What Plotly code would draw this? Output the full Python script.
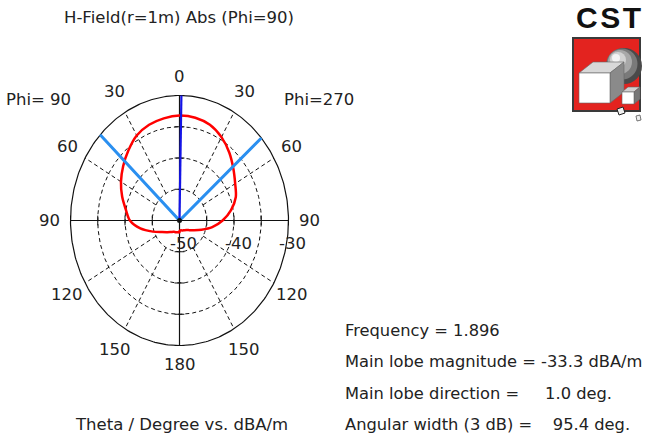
import numpy as np
import plotly.graph_objects as go

# ---------------- data ----------------
theta_deg = [0, 10, 20, 30, 40, 50, 60, 70, 80, 90, 100, 110, 120, 130, 140, 150, 160, 170, 180]
h_phi90 = [-33.2, -33.4, -33.7, -34.3, -35.4, -36.5, -37.6, -38.8, -40.0, -40.9,
           -42.7, -44.8, -46.3, -47.1, -47.6, -47.9, -48.0, -48.1, -48.1]
h_phi270 = [-33.2, -33.3, -33.7, -34.6, -35.8, -37.1, -38.2, -39.0, -40.4, -42.1,
            -43.9, -45.7, -46.9, -47.6, -48.0, -48.2, -48.3, -48.4, -48.3]
r_min, r_max = -50, -30
grid_levels = [-45, -40, -35]
radial_labels = [-50, -40, -30]
theta_ticks = [0, 30, 60, 90, 120, 150, 180]
spoke_angles = [30, 60, 120, 150]
frequency = 1.896
main_lobe_mag = -33.3
main_lobe_dir = 1.0
angular_width = 95.4
title = "H-Field(r=1m) Abs (Phi=90)"
xlabel = "Theta / Degree vs. dBA/m"

# ---------------- layout constants (page pixels) ----------------
W, H = 651, 443
cx, cy = 179.5, 220.5        # polar centre
PX_X = 109 / (r_max - r_min)
PX_Y = 125 / (r_max - r_min)
FONT = "DejaVu Sans"
FS = 16.5
FS_INFO = 16.3
TXT = "#222222"


def px(x):
    return x / W


def py(y):
    return 1 - y / H


def pol(r_db, th, side):
    """side=-1 : Phi=90 (left half), side=+1 : Phi=270 (right half)"""
    r = np.asarray(r_db, float) - r_min
    t = np.radians(np.asarray(th, float))
    return side * r * np.sin(t), r * np.cos(t)


fig = go.Figure()
R = r_max - r_min
t = np.linspace(0, 2 * np.pi, 361)
GRID = dict(color="#111", width=1, dash="4px,3px")

# dashed grid ellipses
for lv in grid_levels:
    rr = lv - r_min
    fig.add_trace(go.Scatter(x=rr * np.sin(t), y=rr * np.cos(t), mode="lines", line=GRID,
                             hoverinfo="skip", showlegend=False))
# dashed spokes
for a in spoke_angles:
    for s in (-1, 1):
        x, y = pol([grid_levels[0], r_max], [a, a], s)
        fig.add_trace(go.Scatter(x=x, y=y, mode="lines", line=GRID,
                                 hoverinfo="skip", showlegend=False))
# outer ellipse
fig.add_trace(go.Scatter(x=R * np.sin(t), y=R * np.cos(t), mode="lines",
                         line=dict(color="#111", width=1.2), hoverinfo="skip", showlegend=False))
# axes
fig.add_trace(go.Scatter(x=[-R, R], y=[0, 0], mode="lines",
                         line=dict(color="#111", width=1.2), hoverinfo="skip", showlegend=False))
fig.add_trace(go.Scatter(x=[0, 0], y=[-R, R], mode="lines",
                         line=dict(color="#111", width=1.2), hoverinfo="skip", showlegend=False))
# tick marks on axes
tk = np.array([lv - r_min for lv in grid_levels] + [R])
fig.add_trace(go.Scatter(x=np.concatenate([tk, -tk]), y=np.zeros(2 * len(tk)), mode="markers",
                         marker=dict(symbol="line-ns", size=7, line=dict(color="#111", width=1)),
                         hoverinfo="skip", showlegend=False))
fig.add_trace(go.Scatter(x=np.zeros(2 * len(tk)), y=np.concatenate([tk, -tk]), mode="markers",
                         marker=dict(symbol="line-ew", size=7, line=dict(color="#111", width=1)),
                         hoverinfo="skip", showlegend=False))

# field curve (closed)
xl, yl = pol(h_phi90, theta_deg, -1)
xr, yr = pol(h_phi270, theta_deg, 1)
xs = np.concatenate([xl[::-1], xr[1:]])
ys = np.concatenate([yl[::-1], yr[1:]])
fig.add_trace(go.Scatter(x=np.append(xs, xs[0]), y=np.append(ys, ys[0]), mode="lines",
                         line=dict(color="#ff0000", width=2.5, shape="spline", smoothing=0.8),
                         hoverinfo="skip", showlegend=False))

# 3 dB beam-width lines
half = angular_width / 2
a_left = half - main_lobe_dir
a_right = half + main_lobe_dir
x1, y1 = pol([r_max], [a_left], -1)
x2, y2 = pol([r_max], [a_right], 1)
fig.add_trace(go.Scatter(x=[x1[0], 0, x2[0]], y=[y1[0], 0, y2[0]], mode="lines",
                         line=dict(color="#2a8ff0", width=3), hoverinfo="skip", showlegend=False))
# main lobe direction
xd, yd = pol([r_min, r_max], [main_lobe_dir, main_lobe_dir], 1)
fig.add_trace(go.Scatter(x=xd, y=yd, mode="lines",
                         line=dict(color="#1414e6", width=2.2), hoverinfo="skip", showlegend=False))
fig.add_trace(go.Scatter(x=[0], y=[0], mode="markers", marker=dict(color="#111", size=5),
                         hoverinfo="skip", showlegend=False))

ann = []
# theta labels
LR = 23.8
for a in theta_ticks:
    sides = [1] if a in (0, 180) else [-1, 1]
    for s in sides:
        rr = LR - (0.8 if a in (0, 180) else 0)
        lx, ly = s * rr * np.sin(np.radians(a)), rr * np.cos(np.radians(a))
        ann.append(dict(x=lx, y=ly, xref="x", yref="y", text=str(a), showarrow=False,
                        font=dict(family=FONT, size=FS, color=TXT), xanchor="center", yanchor="middle"))
# radial labels
for v in radial_labels:
    ann.append(dict(x=(v - r_min) + 0.8, y=-3.6, xref="x", yref="y", text=str(v), showarrow=False,
                    font=dict(family=FONT, size=FS, color=TXT), xanchor="center", yanchor="middle"))

ann.append(dict(x=px(38), y=py(100), xref="paper", yref="paper", text="Phi= 90", showarrow=False,
                font=dict(family=FONT, size=FS, color=TXT), xanchor="center", yanchor="middle"))
ann.append(dict(x=px(319), y=py(100), xref="paper", yref="paper", text="Phi=270", showarrow=False,
                font=dict(family=FONT, size=FS, color=TXT), xanchor="center", yanchor="middle"))
ann.append(dict(x=px(179), y=py(18), xref="paper", yref="paper", text=title, showarrow=False,
                font=dict(family=FONT, size=FS, color=TXT), xanchor="center", yanchor="middle"))
ann.append(dict(x=px(181), y=py(424), xref="paper", yref="paper", text=xlabel, showarrow=False,
                font=dict(family=FONT, size=FS, color=TXT), xanchor="center", yanchor="middle"))

NB = "\u00a0"
info = [f"Frequency = {frequency}",
        f"Main lobe magnitude = {main_lobe_mag} dBA/m",
        f"Main lobe direction = {NB*3} {main_lobe_dir:.1f} deg.",
        f"Angular width (3 dB) = {NB*2} {angular_width:.1f} deg."]
for i, s in enumerate(info):
    ann.append(dict(x=px(343), y=py(330 + i * 31.5), xref="paper", yref="paper", text=s, showarrow=False,
                    font=dict(family=FONT, size=FS_INFO, color=TXT), xanchor="left", yanchor="middle"))

# CST logo
HS = "\u200a"
ann.append(dict(x=px(608), y=1, xref="paper", yref="paper", text=f"<b>C{HS}S{HS}T</b>",
                showarrow=False, borderpad=0, font=dict(family="Liberation Sans", size=30, color="#111"),
                xanchor="center", yanchor="top"))


def rect(x0, y0, x1, y1, fill, line="rgba(0,0,0,0)", lw=0):
    return dict(type="rect", xref="paper", yref="paper", x0=px(x0), x1=px(x1), y0=py(y1), y1=py(y0),
                fillcolor=fill, line=dict(color=line, width=lw), layer="above")


def circ(x, y, r, fill):
    return dict(type="circle", xref="paper", yref="paper", x0=px(x - r), x1=px(x + r),
                y0=py(y + r), y1=py(y - r), fillcolor=fill, line=dict(width=0), layer="above")


def poly(pts, fill, line="#666", lw=0.6):
    d = "M " + " L ".join(f"{px(a)},{py(b)}" for a, b in pts) + " Z"
    return dict(type="path", xref="paper", yref="paper", path=d, fillcolor=fill,
                line=dict(color=line, width=lw), layer="above")


shapes = [rect(573, 38, 640, 111, "#e3231f", "#3a3a3a", 2)]
shapes += [circ(624, 66, 18, "#4a4a4a"), circ(622, 64, 15.5, "#7a7a7a"),
           circ(620, 62, 12, "#a8a8a8"), circ(618, 60, 8, "#d2d2d2"), circ(616, 58, 4, "#f4f4f4")]
shapes += [poly([(579, 73), (610, 73), (624, 62), (593, 62)], "#d8d8d8"),
           poly([(610, 73), (624, 62), (624, 92), (610, 103)], "#8a8a8a"),
           poly([(579, 73), (610, 73), (610, 103), (579, 103)], "#ffffff")]
shapes += [poly([(622, 92), (634, 92), (640, 87), (628, 87)], "#d0d0d0"),
           poly([(634, 92), (640, 87), (640, 99), (634, 104)], "#777"),
           poly([(622, 92), (634, 92), (634, 104), (622, 104)], "#ffffff")]
shapes += [poly([(617, 109), (623, 107), (625, 113), (619, 115)], "#f0f0f0", "#222", 1),
           poly([(636, 116), (640, 115), (641, 120), (637, 121)], "#f0f0f0", "#555", 0.8)]

fig.update_layout(
    width=W, height=H, margin=dict(l=0, r=0, t=0, b=0),
    paper_bgcolor="white", plot_bgcolor="white",
    xaxis=dict(range=[-cx / PX_X, (W - cx) / PX_X], visible=False, fixedrange=True, domain=[0, 1]),
    yaxis=dict(range=[-(H - cy) / PX_Y, cy / PX_Y], visible=False, fixedrange=True, domain=[0, 1]),
    annotations=ann, shapes=shapes, showlegend=False,
)
fig.write_html("out.html", config={"displayModeBar": False, "staticPlot": True},
               post_script="document.body.style.margin='0';document.body.style.overflow='hidden';")
